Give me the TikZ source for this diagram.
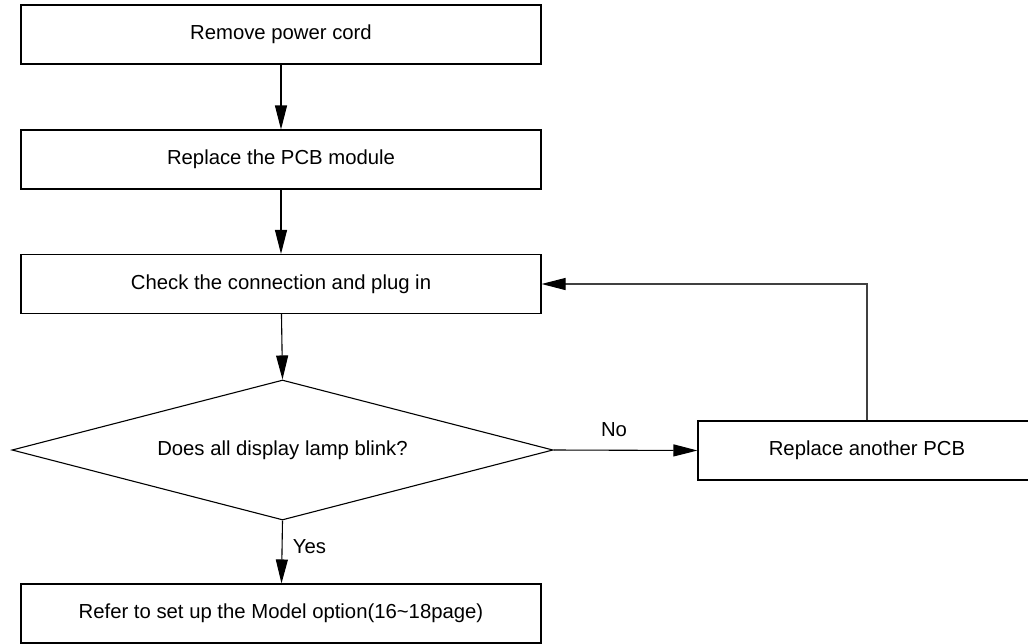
\documentclass[tikz,border=0pt]{standalone}
\usepackage{fontspec}
\setmainfont{Liberation Sans}
\usetikzlibrary{shapes.geometric,arrows.meta}
\begin{document}
\begin{tikzpicture}[x=1pt,y=-1pt,
  font=\fontsize{20.3}{24}\selectfont,
  box/.style={draw, line width=1.1pt, minimum width=520pt, minimum height=59pt, inner sep=0pt},
  dec/.style={draw, diamond, line width=1.1pt, aspect=3.86, minimum width=541pt, minimum height=140pt, inner sep=0pt},
  arr/.style={line width=1.1pt, -{Triangle[length=24pt,width=12pt,color=black]}},
  lbl/.style={inner sep=0pt}
]
\useasboundingbox (0,0) rectangle (1028,643);
\node[box] (b1) at (281,34.5) {Remove power cord};
\node[box] (b2) at (281,159.5) {Replace the PCB module};
\node[box] (b3) at (281,284) {Check the connection and plug in};
\node[dec] (d) at (282.5,450) {Does all display lamp blink?};
\node[box, minimum width=338pt] (r) at (867,450.5) {Replace another PCB};
\node[box] (b4) at (281,613.5) {Refer to set up the Model option(16\textasciitilde18page)};
\coordinate (c1) at (867,284);
\draw[arr] (b1) -- (b2);
\draw[arr] (b2) -- (b3);
\draw[arr] (b3) -- (d.north);
\draw[arr] (d.south) -- (b4);
\draw[arr] (d.east) -- (r.west);
\draw[arr, draw=black!75] (r.north) -- (c1) -- (b3.east);
\node[lbl] (no) at (614,430) {No};
\node[lbl] (yes) at (309.5,547) {Yes};
\end{tikzpicture}
\end{document}
